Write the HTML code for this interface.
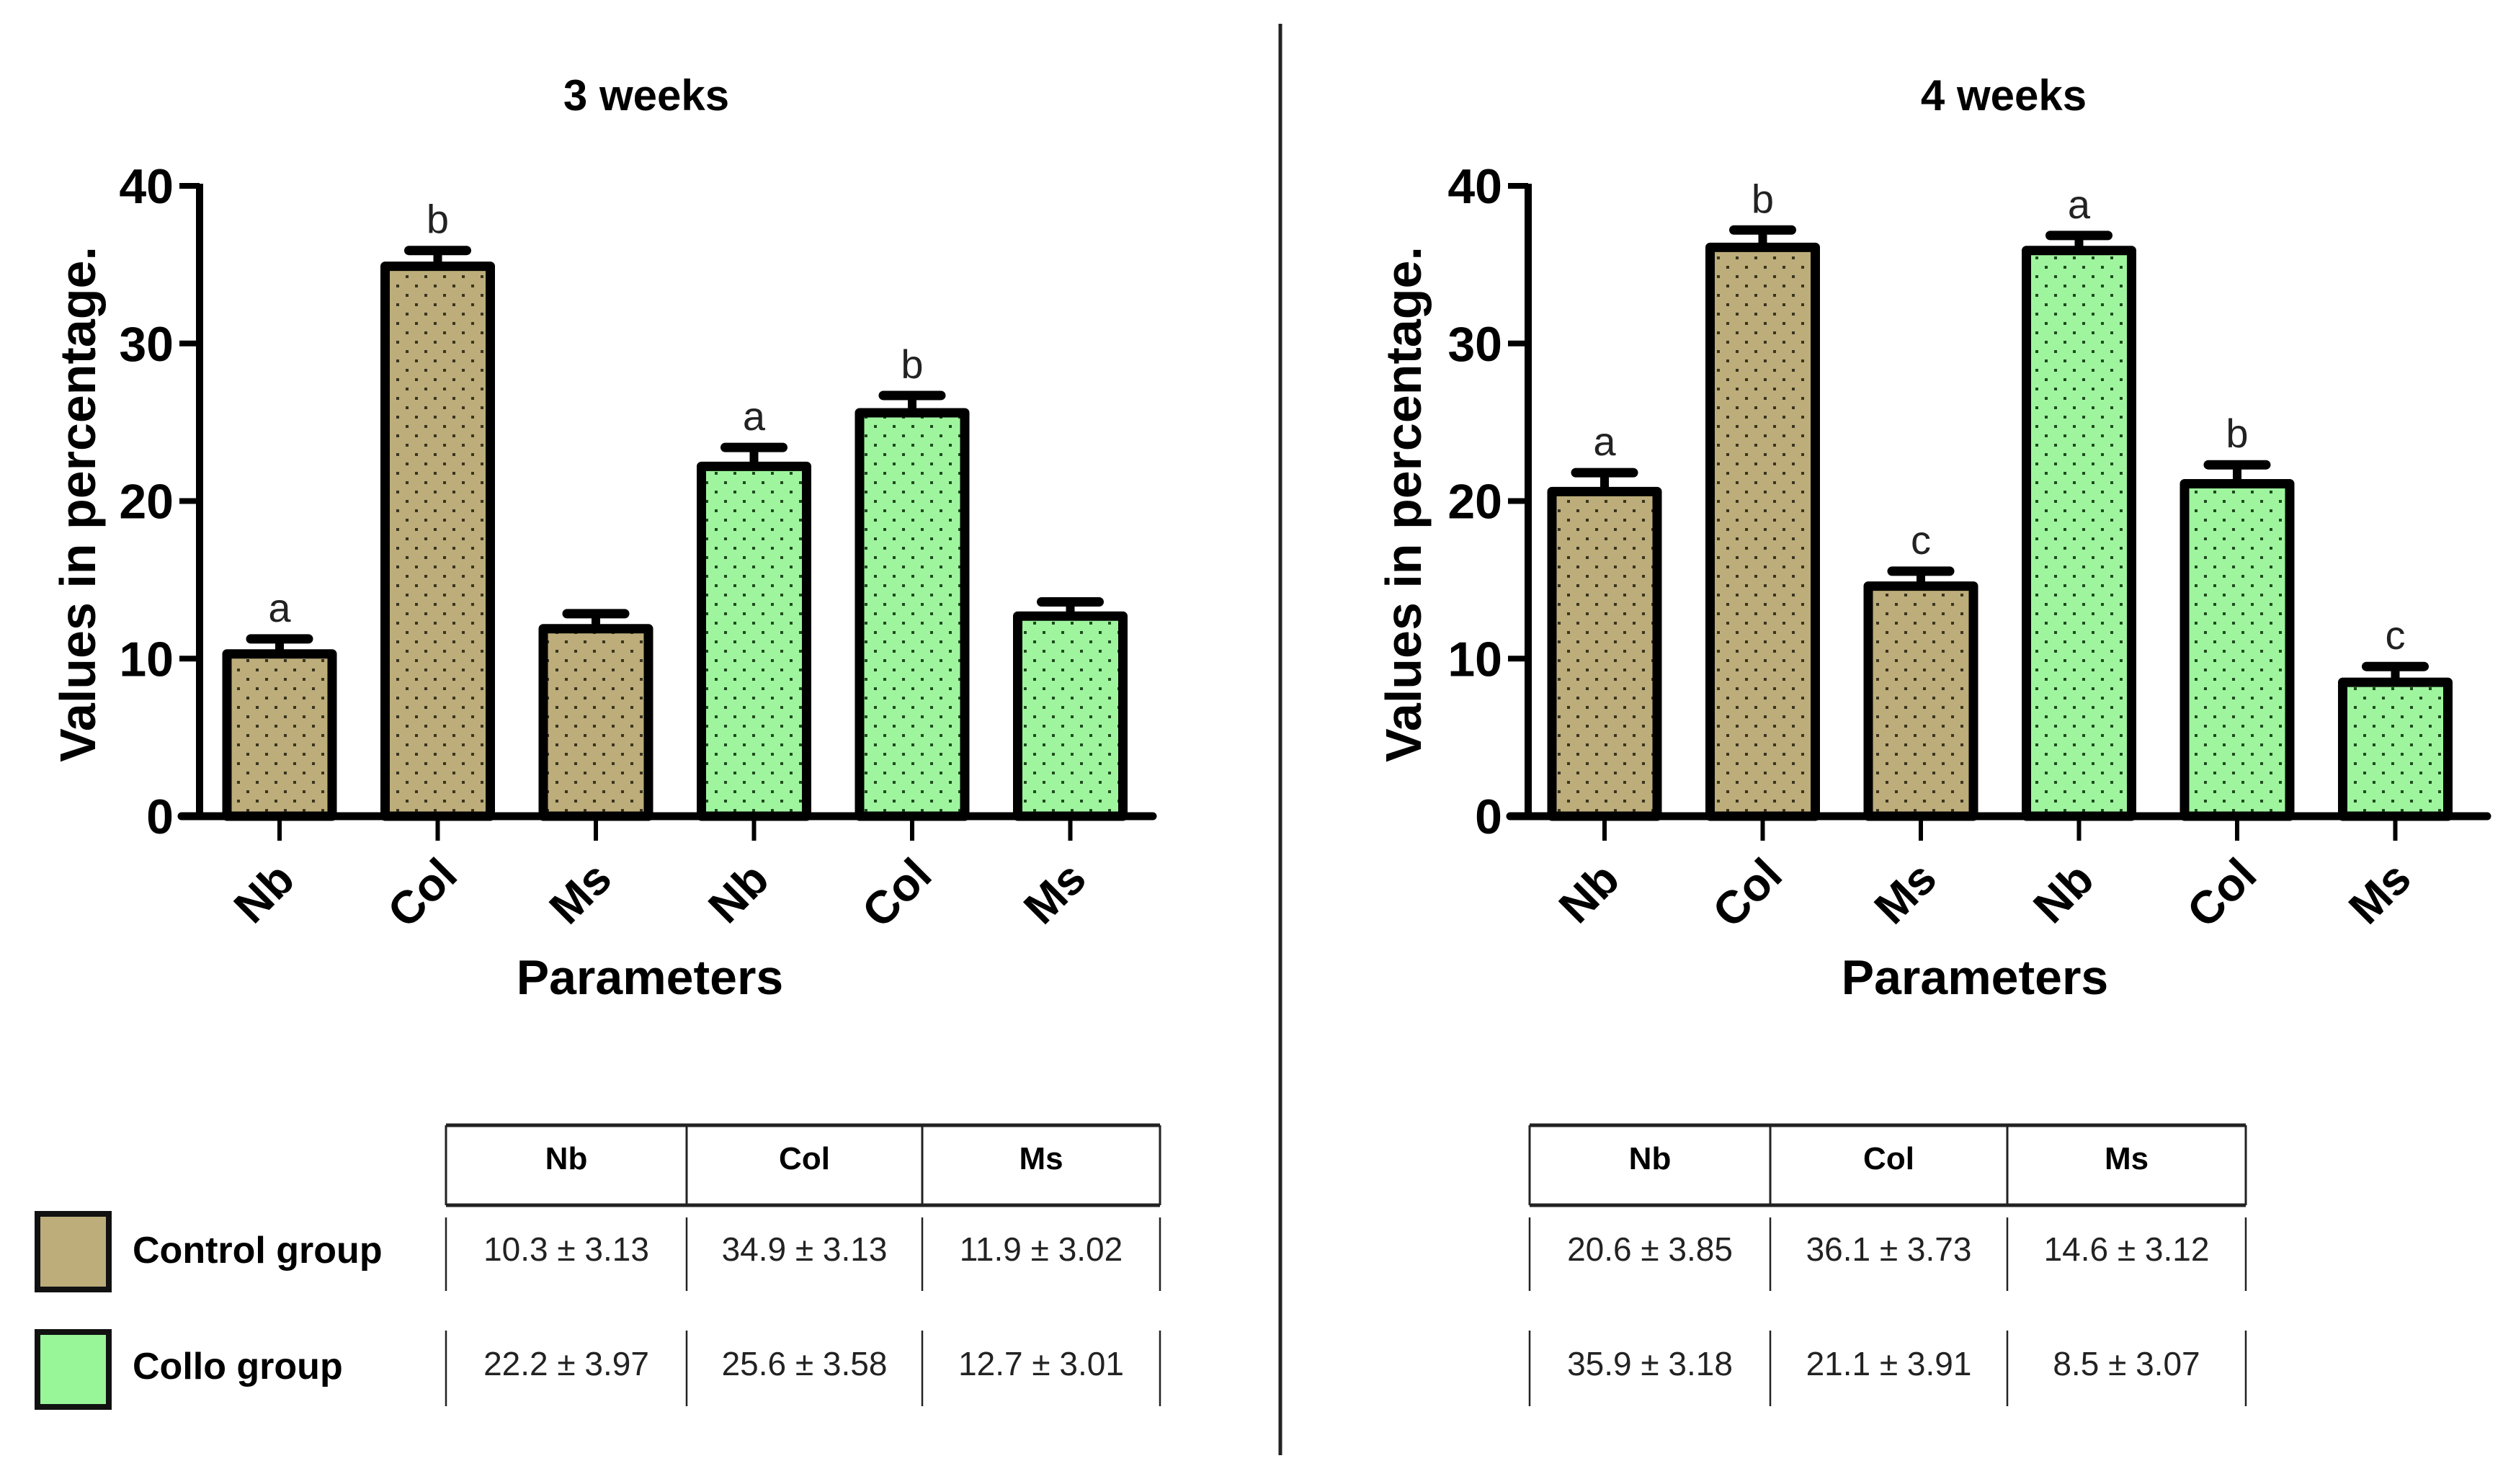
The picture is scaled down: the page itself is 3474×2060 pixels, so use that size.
<!DOCTYPE html>
<html><head><meta charset="utf-8"><style>
html,body{margin:0;padding:0;background:#fff;}
svg{display:block;font-family:"Liberation Sans",Arial,sans-serif;}
</style></head><body>
<svg id="fig" width="3474" height="2060" viewBox="0 0 3474 2060" xmlns="http://www.w3.org/2000/svg">
<defs>
<pattern id="dotsTan" width="26" height="26" patternUnits="userSpaceOnUse">
<rect width="26" height="26" fill="#bcad7a"/><rect x="4" y="5" width="4" height="4" fill="#3a3420"/><rect x="17" y="18" width="4" height="4" fill="#3a3420"/>
</pattern>
<pattern id="dotsGreen" width="26" height="26" patternUnits="userSpaceOnUse">
<rect width="26" height="26" fill="#9ef59e"/><rect x="4" y="5" width="4" height="4" fill="#1f4a1f"/><rect x="17" y="18" width="4" height="4" fill="#1f4a1f"/>
</pattern>
</defs>
<line x1="1777" y1="33" x2="1777" y2="2020" stroke="#222" stroke-width="5"/>
<g id="charts"></g>
<g id="tables"></g>
<g>
<rect x="52" y="1685" width="99" height="105" fill="#bcad7a" stroke="#111" stroke-width="8"/>
<text x="184" y="1753" font-size="52" font-weight="bold">Control group</text>
<rect x="52" y="1849" width="99" height="104" fill="#98f598" stroke="#111" stroke-width="8"/>
<text x="184" y="1914" font-size="52" font-weight="bold">Collo group</text>
</g>
</svg>
<script>
const categories = ["Nb","Col","Ms","Nb","Col","Ms"];
const groups = ["control","control","control","collo","collo","collo"];
const week3Values = [10.3,34.9,11.9,22.2,25.6,12.7];
const week3Errors = [0.95,1.0,0.95,1.2,1.1,0.9];
const week3Letters = ["a","b","","a","b",""];
const week4Values = [20.6,36.1,14.6,35.9,21.1,8.5];
const week4Errors = [1.2,1.1,0.95,0.95,1.2,1.0];
const week4Letters = ["a","b","c","a","b","c"];
const yTicks = [0,10,20,30,40];
const tableHeaders = ["Nb","Col","Ms"];
const table3Control = ["10.3 ± 3.13","34.9 ± 3.13","11.9 ± 3.02"];
const table3Collo = ["22.2 ± 3.97","25.6 ± 3.58","12.7 ± 3.01"];
const table4Control = ["20.6 ± 3.85","36.1 ± 3.73","14.6 ± 3.12"];
const table4Collo = ["35.9 ± 3.18","21.1 ± 3.91","8.5 ± 3.07"];

const NS="http://www.w3.org/2000/svg";
function mk(tag, attrs, parent, text){
  const e=document.createElementNS(NS,tag);
  for(const k in attrs) e.setAttribute(k,attrs[k]);
  if(text!==undefined) e.textContent=text;
  parent.appendChild(e); return e;
}
function drawChart(cfg){
  const g=mk('g',{},document.getElementById('charts'));
  
  
  const y0=1133, y40=258;
  const yScale=v=>y0-(v/40)*(y0-y40);
  const xScale=i=>cfg.firstX+i*cfg.step;
  const t=mk('text',{x:cfg.titleX,y:153,'font-size':60,'font-weight':'bold','text-anchor':'middle'},g,cfg.title);
  
  
  cfg.values.forEach((v,i)=>{
    const cx=xScale(i), w=146;
    const top=yScale(v+cfg.errors[i]);
    const el=mk('line',{x1:cx,y1:yScale(v),x2:cx,y2:top,stroke:'#000','stroke-width':12},g);
    
    
    const cap=mk('line',{x1:cx-40,y1:top,x2:cx+40,y2:top,stroke:'#000','stroke-width':13,'stroke-linecap':'round'},g);
    
    
    const b=mk('rect',{x:cx-w/2,y:yScale(v),width:w,height:y0-yScale(v),fill:groups[i]==='control'?'url(#dotsTan)':'url(#dotsGreen)',stroke:'#000','stroke-width':13,'stroke-linejoin':'round'},g);
    
    
    if(cfg.letters[i]){
      const l=mk('text',{x:cx,y:top-24,'font-size':56,'text-anchor':'middle',fill:'#222'},g,cfg.letters[i]);
      
      
    }
    const tk=mk('line',{x1:cx,y1:y0,x2:cx,y2:y0+34,stroke:'#000','stroke-width':6},g);
    
    
    const lx=cx-18, ly=y0+110;
    const xl=mk('text',{x:lx,y:ly,'font-size':64,'font-weight':'bold','text-anchor':'middle','dominant-baseline':'middle',transform:`rotate(-45 ${lx} ${ly})`},g,categories[i]);
    
    
  });
  const ya=mk('line',{x1:cfg.axisX,y1:y40-3,x2:cfg.axisX,y2:y0+5,stroke:'#000','stroke-width':10},g);
  
  
  const xa=mk('line',{x1:cfg.axisX-25,y1:y0,x2:cfg.axisEnd,y2:y0,stroke:'#000','stroke-width':11,'stroke-linecap':'round'},g);
  
  
  yTicks.forEach(v=>{
    const y=yScale(v);
    const tk=mk('line',{x1:cfg.axisX-28,y1:y,x2:cfg.axisX,y2:y,stroke:'#000','stroke-width':8},g);
    
    
    const tl=mk('text',{x:cfg.axisX-36,y:y+24,'font-size':68,'font-weight':'bold','text-anchor':'end'},g,String(v));
    
    
  });
  const yt=mk('text',{x:cfg.yTitleX,y:700,'font-size':70,'font-weight':'bold','text-anchor':'middle',transform:`rotate(-90 ${cfg.yTitleX} 700)`},g,'Values in percentage.');
  
  
  const xt=mk('text',{x:cfg.xTitleX,y:1380,'font-size':68,'font-weight':'bold','text-anchor':'middle'},g,'Parameters');
  
  
}
drawChart({id:'chart-3-weeks',title:'3 weeks',titleX:897,axisX:277,axisEnd:1600,firstX:388,step:219.5,values:week3Values,errors:week3Errors,letters:week3Letters,yTitleX:132,xTitleX:902});
drawChart({id:'chart-4-weeks',title:'4 weeks',titleX:2781,axisX:2121,axisEnd:3452,firstX:2227,step:219.5,values:week4Values,errors:week4Errors,letters:week4Letters,yTitleX:1972,xTitleX:2741});

function drawTable(id, xs, rowA, rowB){
  const g=mk('g',{},document.getElementById('tables'));
  
  
  const top=1562, hb=1673;
  mk('line',{x1:xs[0],y1:top,x2:xs[3],y2:top,stroke:'#222','stroke-width':5},g);
  mk('line',{x1:xs[0],y1:hb,x2:xs[3],y2:hb,stroke:'#222','stroke-width':5},g);
  xs.forEach(x=>{
    mk('line',{x1:x,y1:top,x2:x,y2:hb,stroke:'#222','stroke-width':3},g);
    mk('line',{x1:x,y1:1690,x2:x,y2:1792,stroke:'#222','stroke-width':2.5},g);
    mk('line',{x1:x,y1:1847,x2:x,y2:1952,stroke:'#222','stroke-width':2.5},g);
  });
  for(let i=0;i<3;i++){
    const cx=(xs[i]+xs[i+1])/2;
    const h=mk('text',{x:cx,y:1623,'font-size':44,'font-weight':'bold','text-anchor':'middle'},g,tableHeaders[i]);
    
    
    const a=mk('text',{x:cx,y:1750,'font-size':46,'text-anchor':'middle',fill:'#222'},g,rowA[i]);
    
    
    const b=mk('text',{x:cx,y:1909,'font-size':46,'text-anchor':'middle',fill:'#222'},g,rowB[i]);
    
    
  }
}
drawTable('table-3-weeks',[619,953,1280,1610],table3Control,table3Collo);
drawTable('table-4-weeks',[2123,2457,2786,3117],table4Control,table4Collo);
</script>
</body></html>
